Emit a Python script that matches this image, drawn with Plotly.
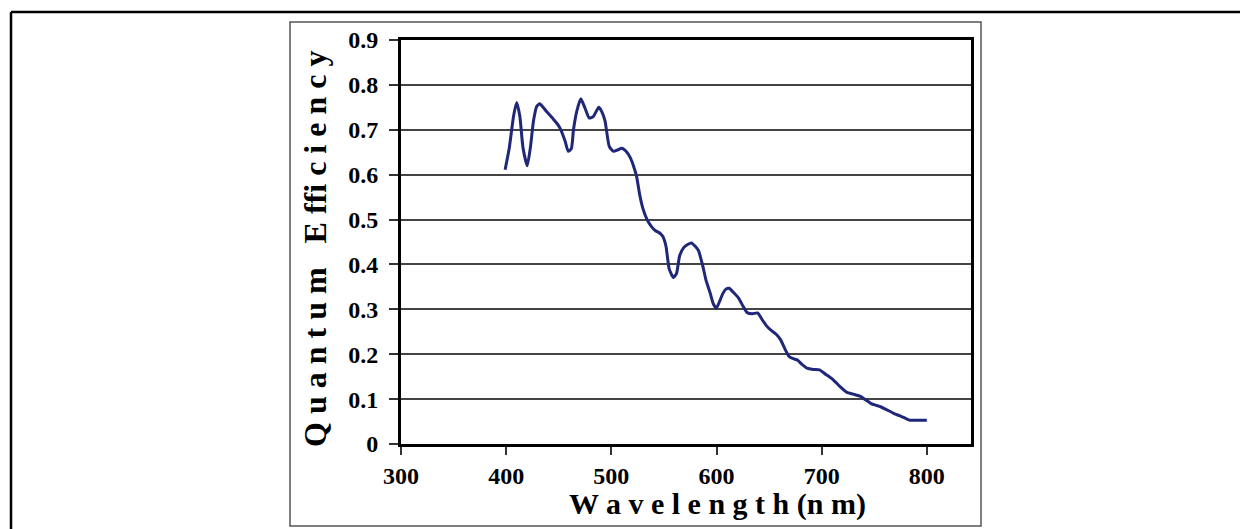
import plotly.graph_objects as go

wavelength = [399, 403, 407, 410, 413, 416, 420, 423, 426, 429, 432, 438, 444, 449, 452, 456, 459,
              462, 464, 467, 471, 475, 479, 483, 488, 491, 494, 498, 502, 506, 510, 514, 518, 521,
              524, 527, 530, 534, 538, 542, 546, 549, 552, 555, 559, 562, 565, 569, 573, 576, 580,
              583, 587, 590, 594, 597, 600, 603, 606, 609, 612, 616, 621, 625, 629, 634, 639, 644,
              648, 652, 657, 661, 665, 669, 673, 677, 681, 686, 692, 698, 704, 711, 717, 724, 730,
              737, 742, 747, 752, 756, 762, 768, 774, 779, 784, 792, 800]
qe = [0.611, 0.66, 0.73, 0.761, 0.73, 0.66, 0.62, 0.66, 0.72, 0.752, 0.758, 0.742, 0.726, 0.712,
      0.70, 0.675, 0.652, 0.658, 0.70, 0.74, 0.769, 0.748, 0.726, 0.730, 0.750, 0.740, 0.72, 0.663,
      0.652, 0.655, 0.659, 0.652, 0.638, 0.620, 0.596, 0.555, 0.525, 0.500, 0.485, 0.475, 0.470,
      0.462, 0.440, 0.390, 0.371, 0.380, 0.420, 0.438, 0.445, 0.448, 0.440, 0.430, 0.396, 0.365,
      0.336, 0.312, 0.303, 0.318, 0.335, 0.345, 0.347, 0.338, 0.325, 0.308, 0.293, 0.290, 0.292,
      0.275, 0.262, 0.253, 0.244, 0.232, 0.212, 0.195, 0.190, 0.187, 0.178, 0.169, 0.166, 0.165,
      0.155, 0.143, 0.129, 0.115, 0.111, 0.106, 0.098, 0.090, 0.086, 0.083, 0.076, 0.069, 0.063,
      0.058, 0.053, 0.053, 0.053]

x_ticks = [300, 400, 500, 600, 700, 800]
y_ticks = [0, 0.1, 0.2, 0.3, 0.4, 0.5, 0.6, 0.7, 0.8, 0.9]
y_labels = ["0", "0.1", "0.2", "0.3", "0.4", "0.5", "0.6", "0.7", "0.8", "0.9"]
x_title = "W a v e l e n g t h (n m)"
y_title = "Q u a n t u m   E ffi c i e n c y"

OFF = 8  # page body margin
W, H = 1248 - OFF, 529 - OFF
L, R, T, B = 401 - OFF, 971 - OFF, 40 - OFF, 444 - OFF
PW, PH = R - L, B - T

def px(xs):
    return (xs - OFF - L) / PW

def py(ys):
    return (B - (ys - OFF)) / PH

FONT = "Liberation Serif"

fig = go.Figure()
fig.add_trace(go.Scatter(x=wavelength, y=qe, mode="lines",
                         line=dict(color="#1f2778", width=3, shape="spline", smoothing=0.5),
                         showlegend=False, hoverinfo="x+y"))

fig.update_layout(
    width=W, height=H,
    margin=dict(l=L, r=W - R, t=T, b=H - B, pad=0),
    paper_bgcolor="white", plot_bgcolor="white",
    font=dict(family=FONT, color="black"),
    xaxis=dict(range=[300, 842], tickvals=x_ticks, ticktext=[str(v) for v in x_ticks],
               showgrid=False, zeroline=False, showline=True, linecolor="black", linewidth=3,
               mirror=True, ticks="outside", ticklen=8, tickwidth=1.5, tickcolor="#333",
               ticklabelstandoff=0,
               tickfont=dict(family=FONT, size=24, color="black", weight="bold")),
    yaxis=dict(range=[0, 0.9], tickvals=y_ticks, ticktext=y_labels,
               showgrid=True, gridcolor="#444", gridwidth=1.5, zeroline=False,
               showline=True, linecolor="black", linewidth=3, mirror=True,
               ticks="outside", ticklen=9, tickwidth=1.5, tickcolor="#333",
               ticklabelstandoff=6,
               tickfont=dict(family=FONT, size=24, color="black", weight="bold")),
    annotations=[
        dict(text=x_title, xref="paper", yref="paper", x=px(717), y=py(504),
             xanchor="center", yanchor="middle", showarrow=False,
             font=dict(family=FONT, size=30, color="black", weight="bold")),
        dict(text=y_title, xref="paper", yref="paper", x=px(315), y=py(249),
             xanchor="center", yanchor="middle", showarrow=False, textangle=-90,
             font=dict(family=FONT, size=32, color="black", weight="bold")),
    ],
    shapes=[
        dict(type="rect", xref="paper", yref="paper", x0=px(290), x1=px(981), y0=py(526), y1=py(22),
             line=dict(color="#555", width=1.5), layer="below"),
        dict(type="line", xref="paper", yref="paper", x0=px(11), x1=px(1260), y0=py(12), y1=py(12),
             line=dict(color="black", width=2.5)),
        dict(type="line", xref="paper", yref="paper", x0=px(11), x1=px(11), y0=py(12), y1=py(540),
             line=dict(color="black", width=2.5)),
    ],
)

fig.write_html("out.html")
